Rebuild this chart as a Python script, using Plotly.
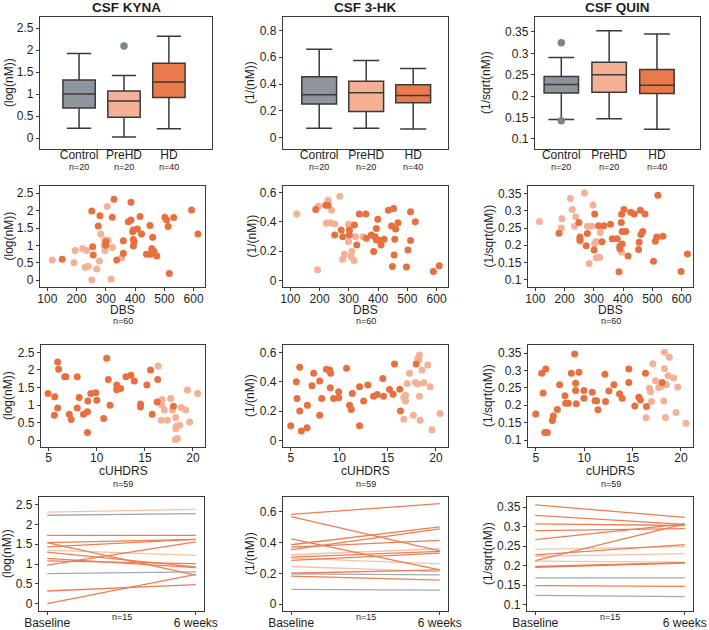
import plotly.graph_objects as go

W, H = 709, 630
FONT = "Liberation Sans, Arial, Helvetica, sans-serif"
C_DARK = "#E8703F"
C_LIGHT = "#F4B196"
C_CTRL = "#8E959D"
C_HD_BOX = "#E97B4B"
C_LINE_D = "#EE7D52"
C_LINE_L = "#F7C1A9"
C_LINE_G = "#A3A9B0"
EDGE = "#3A3A3A"
TXT = "#1E1E1E"

# ---------------- data ----------------
analytes = ["CSF KYNA", "CSF 3-HK", "CSF QUIN"]
units = ["(log(nM))", "(1/(nM))", "(1/sqrt(nM))"]
groups = ["Control", "PreHD", "HD"]
group_n = ["n=20", "n=20", "n=40"]

# box statistics (lower whisker, q1, median, q3, upper whisker) per group
kyna_low = [0.22, 0.02, 0.21]
kyna_q1 = [0.68, 0.47, 0.92]
kyna_med = [1.00, 0.84, 1.27]
kyna_q3 = [1.32, 1.07, 1.70]
kyna_high = [1.92, 1.42, 2.31]
kyna_out_x = [1]
kyna_out_y = [2.09]

hk_low = [0.07, 0.07, 0.065]
hk_q1 = [0.25, 0.195, 0.26]
hk_med = [0.32, 0.335, 0.315]
hk_q3 = [0.455, 0.42, 0.395]
hk_high = [0.66, 0.575, 0.515]
hk_out_x = []
hk_out_y = []

quin_low = [0.145, 0.147, 0.122]
quin_q1 = [0.207, 0.209, 0.206]
quin_med = [0.227, 0.250, 0.225]
quin_q3 = [0.246, 0.279, 0.262]
quin_high = [0.290, 0.353, 0.345]
quin_out_x = [0, 0]
quin_out_y = [0.325, 0.142]

# DBS scatter (PreHD = light, HD = dark)
dbs_kyna_pre_x = [117, 191, 195, 221, 234, 229, 240, 252, 269, 278, 283, 297, 297, 305, 308, 323, 318, 354, 294]
dbs_kyna_pre_y = [0.58, 0.50, 0.85, 0.91, 0.85, 0.37, 0.40, 0.00, 0.32, 0.55, 1.33, 1.15, 0.85, 2.12, 1.15, 0.94, 0.03, 0.64, 1.00]
dbs_kyna_hd_x = [151, 252, 255, 257, 274, 280, 300, 300, 322, 328, 337, 360, 360, 377, 386, 386, 392, 394, 394,
                 397, 394, 408, 417, 422, 439, 451, 451, 457, 460, 465, 460, 474, 502, 508, 513, 517, 532, 593, 615]
dbs_kyna_hd_y = [0.60, 1.99, 0.96, 0.72, 1.56, 1.85, 1.10, 1.00, 1.81, 2.33, 0.58, 1.13, 0.77, 1.68, 1.73, 2.24, 1.39, 1.17, 0.98,
                 1.10, 1.44, 1.47, 1.83, 1.33, 0.74, 0.74, 1.57, 0.91, 1.23, 0.82, 0.77, 0.69, 1.81, 1.73, 1.54, 0.19, 1.80, 2.02, 1.33]

dbs_hk_pre_x = [122, 196, 229, 241, 223, 237, 252, 269, 193, 279, 285, 299, 299, 308, 310, 318, 323, 349]
dbs_hk_pre_y = [0.453, 0.507, 0.548, 0.480, 0.390, 0.394, 0.385, 0.575, 0.072, 0.145, 0.179, 0.383, 0.265, 0.163, 0.197, 0.136, 0.299, 0.299]
dbs_hk_hd_x = [187, 221, 229, 252, 274, 279, 302, 302, 319, 327, 336, 358, 360, 377, 385, 390, 394, 394, 399,
               401, 410, 421, 435, 446, 453, 449, 455, 457, 460, 468, 497, 502, 511, 511, 527, 589, 609]
dbs_hk_hd_y = [0.485, 0.514, 0.514, 0.310, 0.344, 0.299, 0.344, 0.310, 0.378, 0.242, 0.453, 0.453, 0.288, 0.310, 0.197, 0.299, 0.355, 0.276, 0.417,
               0.276, 0.242, 0.281, 0.480, 0.371, 0.491, 0.095, 0.174, 0.281, 0.351, 0.394, 0.091, 0.208, 0.469, 0.272, 0.401, 0.061, 0.100]

dbs_quin_pre_x = [114, 191, 189, 220, 226, 238, 234, 268, 278, 284, 293, 297, 253, 251, 303, 308, 308, 320, 322, 395]
dbs_quin_pre_y = [0.269, 0.277, 0.250, 0.336, 0.304, 0.283, 0.255, 0.352, 0.255, 0.147, 0.255, 0.317, 0.212, 0.218, 0.205, 0.211, 0.164, 0.165, 0.237, 0.180]
dbs_quin_hd_x = [181, 249, 253, 253, 274, 278, 303, 301, 316, 328, 334, 357, 363, 380, 389, 389, 386, 395, 394, 397,
                 397, 403, 409, 417, 426, 438, 453, 455, 459, 461, 467, 475, 504, 510, 515, 519, 536, 598, 620]
dbs_quin_hd_y = [0.235, 0.266, 0.224, 0.215, 0.199, 0.234, 0.291, 0.186, 0.257, 0.210, 0.257, 0.261, 0.219, 0.219, 0.197, 0.190, 0.123, 0.290, 0.266, 0.240,
                 0.204, 0.304, 0.240, 0.169, 0.296, 0.291, 0.188, 0.209, 0.302, 0.231, 0.240, 0.291, 0.154, 0.212, 0.224, 0.345, 0.226, 0.124, 0.175]

# cUHDRS scatter
uh_kyna_hd_x = [4.93, 5.62, 5.59, 5.93, 6.03, 5.93, 6.66, 6.79, 7.14, 7.34, 7.97, 7.97, 8.17, 8.62, 9.03, 9.03, 9.07, 9.38, 9.90,
                10.0, 10.72, 11.03, 11.20, 11.38, 12.07, 12.07, 12.48, 13.03, 13.55, 13.90, 14.55, 14.55, 15.21, 15.59, 15.76, 16.34, 16.28, 17.97]
uh_kyna_hd_y = [1.33, 1.24, 0.71, 2.23, 2.02, 0.92, 1.81, 1.81, 0.74, 0.59, 1.81, 0.92, 1.22, 0.74, 0.81, 0.22, 1.12, 1.33, 1.35,
                1.14, 0.62, 2.33, 1.73, 1.00, 1.57, 1.44, 1.47, 1.81, 1.85, 1.69, 1.03, 0.95, 1.57, 2.00, 0.74, 1.73, 1.09, 0.97]
uh_kyna_pre_x = [16.38, 16.79, 16.79, 16.72, 17.03, 17.34, 17.69, 17.86, 18.21, 18.28, 18.17, 18.38, 18.62, 18.79, 19.24, 19.41, 19.66, 20.48, 18.21]
uh_kyna_pre_y = [2.11, 1.16, 1.00, 0.57, 0.86, 0.57, 1.19, 0.86, 0.65, 0.40, 0.02, 0.05, 0.43, 0.93, 0.86, 1.43, 0.52, 1.33, 0.33]

uh_hk_hd_x = [5.0, 5.58, 5.65, 5.93, 5.93, 6.10, 6.72, 6.68, 7.20, 7.37, 7.99, 7.99, 8.20, 8.68, 9.02, 9.09, 9.12, 9.43, 9.95,
              9.95, 10.77, 11.08, 11.25, 11.36, 12.11, 12.11, 12.53, 12.97, 13.56, 13.93, 14.52, 14.59, 15.21, 15.58, 15.72, 16.27, 16.34, 17.96]
uh_hk_hd_y = [0.100, 0.400, 0.285, 0.498, 0.200, 0.064, 0.240, 0.087, 0.372, 0.457, 0.404, 0.171, 0.285, 0.484, 0.479, 0.358, 0.457, 0.285, 0.290,
              0.331, 0.491, 0.240, 0.210, 0.320, 0.365, 0.100, 0.269, 0.377, 0.301, 0.313, 0.422, 0.301, 0.347, 0.315, 0.520, 0.349, 0.200, 0.520]
uh_hk_pre_x = [16.68, 16.86, 16.86, 16.68, 17.03, 17.27, 17.68, 17.89, 18.13, 18.30, 18.13, 18.30, 18.37, 18.57, 18.75, 19.16, 19.40, 19.60, 20.43, 18.23]
uh_hk_pre_y = [0.144, 0.308, 0.269, 0.292, 0.388, 0.457, 0.171, 0.395, 0.559, 0.582, 0.384, 0.301, 0.137, 0.479, 0.393, 0.514, 0.365, 0.073, 0.183, 0.548]

uh_quin_hd_x = [5.0, 5.62, 5.76, 6.03, 5.93, 6.20, 6.72, 6.82, 7.23, 7.47, 8.02, 8.09, 8.37, 8.68, 9.02, 9.12, 9.12, 9.19, 9.47,
                9.98, 9.98, 10.84, 11.12, 11.29, 11.43, 12.15, 12.22, 12.56, 13.08, 13.66, 13.93, 14.62, 14.62, 15.24, 15.65, 15.82, 16.34, 16.44, 18.06]
uh_quin_hd_y = [0.175, 0.292, 0.235, 0.304, 0.122, 0.122, 0.156, 0.169, 0.188, 0.259, 0.227, 0.206, 0.206, 0.292, 0.347, 0.263, 0.242, 0.204, 0.295,
                0.242, 0.220, 0.237, 0.213, 0.213, 0.187, 0.289, 0.211, 0.241, 0.259, 0.233, 0.220, 0.304, 0.265, 0.198, 0.223, 0.215, 0.292, 0.196, 0.265]
uh_quin_pre_x = [16.41, 16.75, 16.86, 16.96, 17.10, 17.37, 17.71, 18.16, 18.23, 18.30, 18.30, 18.40, 18.51, 18.68, 18.81, 19.26, 19.50, 19.67, 20.53, 17.96]
uh_quin_pre_y = [0.164, 0.249, 0.239, 0.211, 0.319, 0.270, 0.251, 0.262, 0.212, 0.352, 0.305, 0.165, 0.259, 0.285, 0.338, 0.278, 0.179, 0.252, 0.148, 0.254]

# longitudinal (baseline -> 6 weeks); group: d = HD, l = PreHD, g = other
time_labels = ["Baseline", "6 weeks"]
long_kyna_base = [2.31, 2.23, 1.72, 1.54, 1.54, 1.43, 1.35, 1.30, 1.14, 1.08, 0.97, 0.76, 0.32, 0.00]
long_kyna_wk6 = [2.38, 2.27, 1.72, 1.62, 0.72, 1.62, 1.22, 0.93, 0.91, 1.01, 1.56, 0.80, 0.48, 0.74]
long_kyna_grp = ["l", "g", "d", "d", "d", "d", "l", "d", "d", "d", "d", "g", "d", "d"]

long_hk_base = [0.583, 0.568, 0.424, 0.386, 0.354, 0.371, 0.321, 0.306, 0.284, 0.299, 0.245, 0.201, 0.183, 0.197, 0.096]
long_hk_wk6 = [0.653, 0.347, 0.223, 0.502, 0.489, 0.415, 0.360, 0.343, 0.332, 0.262, 0.212, 0.223, 0.157, 0.190, 0.092]
long_hk_grp = ["d", "d", "d", "d", "d", "d", "l", "d", "d", "l", "l", "d", "d", "g", "g"]

long_quin_base = [0.356, 0.329, 0.307, 0.290, 0.267, 0.242, 0.228, 0.224, 0.213, 0.212, 0.198, 0.196, 0.169, 0.149, 0.124]
long_quin_wk6 = [0.324, 0.306, 0.303, 0.295, 0.307, 0.249, 0.254, 0.231, 0.307, 0.209, 0.208, 0.207, 0.169, 0.147, 0.121]
long_quin_grp = ["d", "d", "d", "d", "d", "l", "d", "l", "d", "l", "d", "d", "g", "d", "g"]

# ---------------- layout helpers ----------------
col_px = [
    [(40, 212), (283, 448), (535, 700)],   # row 1
    [(40, 205), (283, 448), (528, 693)],   # row 2
    [(41, 205), (283, 448), (528, 693)],   # row 3
    [(39, 204), (283, 448), (527, 693)],   # row 4
]
row_px = [(17, 149), (186, 287), (345, 447), (497, 611)]
ytitle_x = [[9, 250, 486], [8, 251, 488], [8, 250, 488], [7, 250, 488]]
xlabel_standoff = [-6, -3, -4, -3]

y_ranges = [
    [[-0.25, 2.75], [-0.085, 0.9], [0.076, 0.385]],
    [[-0.2, 2.71], [-0.045, 0.645], [0.079, 0.372]],
    [[-0.19, 2.71], [-0.045, 0.65], [0.08, 0.373]],
    [[-0.185, 2.69], [-0.044, 0.696], [0.084, 0.376]],
]
box_x_ranges = [[-0.87, 2.96], [-0.77, 2.74], [-0.55, 2.9]]
box_width = [0.72, 0.74, 0.72]

kyna_ticks = [0, 0.5, 1, 1.5, 2, 2.5]
kyna_ticktext = ["0", "0.5", "1", "1.5", "2", "2.5"]
hk_ticks_r1 = [0, 0.2, 0.4, 0.6, 0.8]
hk_ticks = [0, 0.2, 0.4, 0.6]
quin_ticks = [0.1, 0.15, 0.2, 0.25, 0.3, 0.35]
quin_ticktext = ["0.1", "0.15", "0.2", "0.25", "0.3", "0.35"]
dbs_ticks = [100, 200, 300, 400, 500, 600]
uh_ticks = [5, 10, 15, 20]


def xdom(a, b):
    return [a / W, b / W]


def ydom(top, bottom):
    return [1 - bottom / H, 1 - top / H]


def ann(text, xpx, ypx, size=12, angle=0):
    return dict(text=text, xref="paper", yref="paper", x=xpx / W, y=1 - ypx / H,
                textangle=angle, showarrow=False, xanchor="center", yanchor="middle",
                font=dict(size=size, color=TXT))


fig = go.Figure()
layout = dict(
    width=W, height=H, margin=dict(l=0, r=0, t=0, b=0, autoexpand=False),
    paper_bgcolor="white", plot_bgcolor="white", showlegend=False,
    font=dict(family=FONT, size=12, color=TXT),
    boxmode="overlay",
)
annotations = []

axis_common = dict(showline=True, mirror=True, linecolor=EDGE, linewidth=1.3,
                   ticks="outside", ticklen=3, tickcolor=EDGE, tickwidth=1.1,
                   showgrid=False, zeroline=False, automargin=False,
                   tickfont=dict(size=12, color=TXT))

for r in range(4):
    for c in range(3):
        i = r * 3 + c + 1
        xa = dict(axis_common, domain=xdom(*col_px[r][c]), anchor=f"y{i}",
                  ticklabelstandoff=xlabel_standoff[r])
        ya = dict(axis_common, domain=ydom(*row_px[r]), anchor=f"x{i}", range=y_ranges[r][c])
        if c == 0:
            ya.update(tickvals=kyna_ticks, ticktext=kyna_ticktext)
        elif c == 1:
            ya.update(tickvals=hk_ticks_r1 if r == 0 else hk_ticks)
        else:
            ya.update(tickvals=quin_ticks, ticktext=quin_ticktext)
        if r == 0:
            xa.update(range=box_x_ranges[c], tickvals=[0, 1, 2], ticks="", ticktext=groups)
        elif r == 1:
            xa.update(range=[75, 639], tickvals=dbs_ticks)
        elif r == 2:
            xa.update(range=[4.2, 21.25], tickvals=uh_ticks)
        else:
            xa.update(range=[-0.055, 1.055], tickvals=[0, 1], ticktext=time_labels)
        layout[f"xaxis{i}"] = xa
        layout[f"yaxis{i}"] = ya
        top, bottom = row_px[r]
        annotations.append(ann(units[c], ytitle_x[r][c], (top + bottom) / 2, 12, -90))

for c in range(3):
    a, b = col_px[0][c]
    annotations.append(ann(f"<b>{analytes[c]}</b>", (a + b) / 2, 8, 13.5))
    x0, x1 = box_x_ranges[c]
    for g in range(3):
        gx = a + (g - x0) / (x1 - x0) * (b - a)
        annotations.append(ann(group_n[g], gx, 167.5, 9))
    a, b = col_px[1][c]
    annotations.append(ann("DBS", (a + b) / 2, 310, 12))
    annotations.append(ann("n=60", (a + b) / 2, 321, 9))
    a, b = col_px[2][c]
    annotations.append(ann("cUHDRS", (a + b) / 2, 471, 12))
    annotations.append(ann("n=59", (a + b) / 2, 483.5, 9))
    a, b = col_px[3][c]
    annotations.append(ann("n=15", (a + b) / 2, 617, 9))

layout["annotations"] = annotations

# ---------------- traces ----------------
box_stats = [
    (kyna_low, kyna_q1, kyna_med, kyna_q3, kyna_high, kyna_out_x, kyna_out_y),
    (hk_low, hk_q1, hk_med, hk_q3, hk_high, hk_out_x, hk_out_y),
    (quin_low, quin_q1, quin_med, quin_q3, quin_high, quin_out_x, quin_out_y),
]
box_fill = [C_CTRL, C_LIGHT, C_HD_BOX]
for c, (lo, q1, md, q3, hi, ox, oy) in enumerate(box_stats):
    i = c + 1
    for g in range(3):
        fig.add_trace(go.Box(x=[g], q1=[q1[g]], median=[md[g]], q3=[q3[g]],
                             lowerfence=[lo[g]], upperfence=[hi[g]],
                             fillcolor=box_fill[g], line=dict(color=EDGE, width=1.5),
                             width=box_width[c], whiskerwidth=0.75, boxpoints=False,
                             xaxis=f"x{i}", yaxis=f"y{i}", hoverinfo="skip"))
    if ox:
        fig.add_trace(go.Scatter(x=ox, y=oy, mode="markers",
                                 marker=dict(color="#7B838C", size=7.5),
                                 xaxis=f"x{i}", yaxis=f"y{i}"))

scatter_sets = [
    [(dbs_kyna_pre_x, dbs_kyna_pre_y, dbs_kyna_hd_x, dbs_kyna_hd_y),
     (dbs_hk_pre_x, dbs_hk_pre_y, dbs_hk_hd_x, dbs_hk_hd_y),
     (dbs_quin_pre_x, dbs_quin_pre_y, dbs_quin_hd_x, dbs_quin_hd_y)],
    [(uh_kyna_pre_x, uh_kyna_pre_y, uh_kyna_hd_x, uh_kyna_hd_y),
     (uh_hk_pre_x, uh_hk_pre_y, uh_hk_hd_x, uh_hk_hd_y),
     (uh_quin_pre_x, uh_quin_pre_y, uh_quin_hd_x, uh_quin_hd_y)],
]
for rr, row in enumerate(scatter_sets):
    for c, (px_, py_, hx, hy) in enumerate(row):
        i = (rr + 1) * 3 + c + 1
        fig.add_trace(go.Scatter(x=px_, y=py_, mode="markers",
                                 marker=dict(color=C_LIGHT, size=7),
                                 xaxis=f"x{i}", yaxis=f"y{i}"))
        fig.add_trace(go.Scatter(x=hx, y=hy, mode="markers",
                                 marker=dict(color=C_DARK, size=7),
                                 xaxis=f"x{i}", yaxis=f"y{i}"))

line_color = {"d": C_LINE_D, "l": C_LINE_L, "g": C_LINE_G}
long_sets = [(long_kyna_base, long_kyna_wk6, long_kyna_grp),
             (long_hk_base, long_hk_wk6, long_hk_grp),
             (long_quin_base, long_quin_wk6, long_quin_grp)]
for c, (b0, b1, grp) in enumerate(long_sets):
    i = 9 + c + 1
    order = sorted(range(len(b0)), key=lambda k: {"g": 0, "l": 1, "d": 2}[grp[k]])
    for k in order:
        fig.add_trace(go.Scatter(x=[0, 1], y=[b0[k], b1[k]], mode="lines",
                                 line=dict(color=line_color[grp[k]], width=1.3),
                                 xaxis=f"x{i}", yaxis=f"y{i}"))

fig.update_layout(**layout)
fig.write_html("out.html", config={"displayModeBar": False},
               post_script="document.body.style.margin='0';document.body.style.padding='0';")
